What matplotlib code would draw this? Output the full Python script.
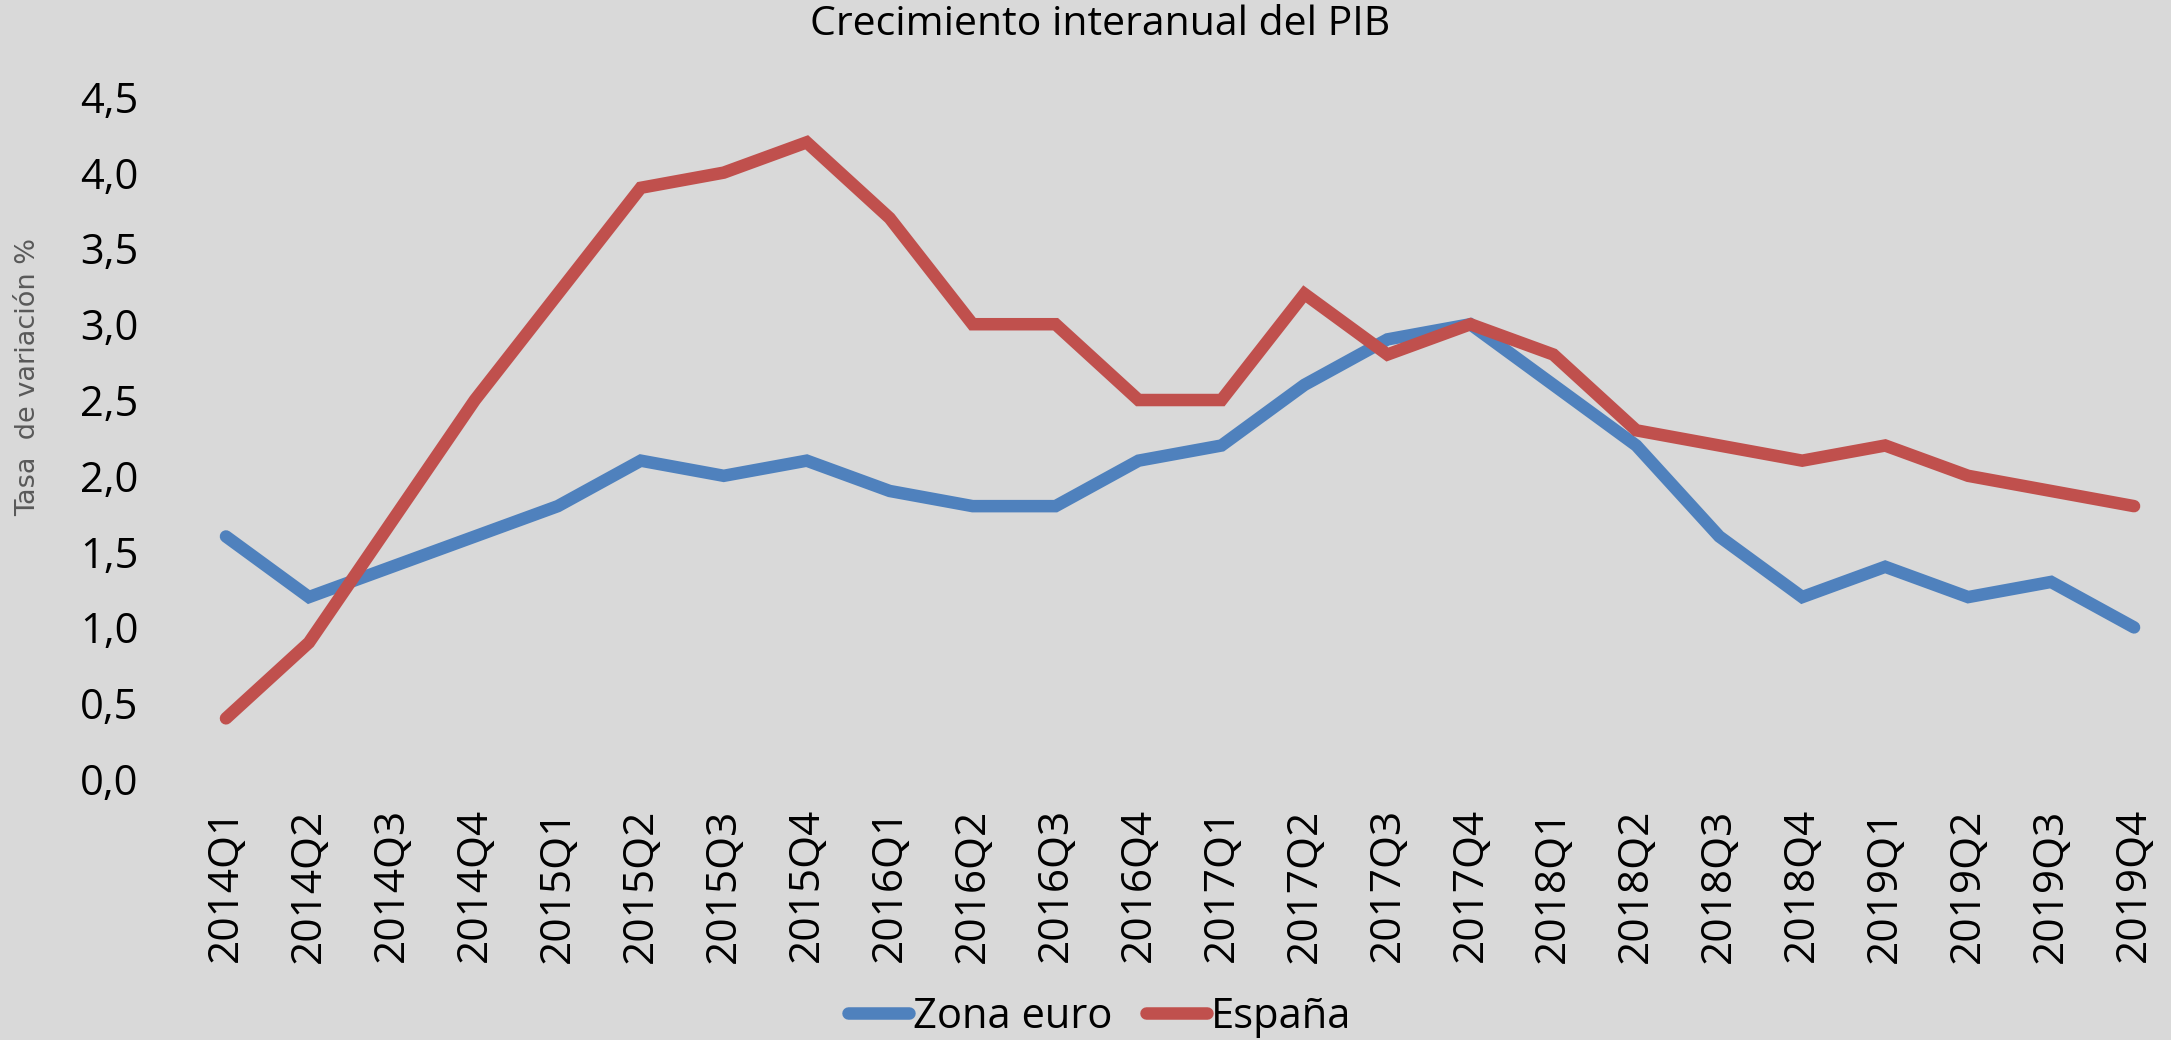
import matplotlib
matplotlib.use("Agg")
import matplotlib.pyplot as plt
from matplotlib.ticker import FuncFormatter

categories = ["2014Q1", "2014Q2", "2014Q3", "2014Q4",
              "2015Q1", "2015Q2", "2015Q3", "2015Q4",
              "2016Q1", "2016Q2", "2016Q3", "2016Q4",
              "2017Q1", "2017Q2", "2017Q3", "2017Q4",
              "2018Q1", "2018Q2", "2018Q3", "2018Q4",
              "2019Q1", "2019Q2", "2019Q3", "2019Q4"]
zona_euro = [1.6, 1.2, 1.4, 1.6, 1.8, 2.1, 2.0, 2.1, 1.9, 1.8, 1.8, 2.1,
             2.2, 2.6, 2.9, 3.0, 2.6, 2.2, 1.6, 1.2, 1.4, 1.2, 1.3, 1.0]
espana = [0.4, 0.9, 1.7, 2.5, 3.2, 3.9, 4.0, 4.2, 3.7, 3.0, 3.0, 2.5,
          2.5, 3.2, 2.8, 3.0, 2.8, 2.3, 2.2, 2.1, 2.2, 2.0, 1.9, 1.8]
y_ticks = [0.0, 0.5, 1.0, 1.5, 2.0, 2.5, 3.0, 3.5, 4.0, 4.5]

BG = "#d9d9d9"
FONT = ["Open Sans", "DejaVu Sans"]
plt.rcParams["font.family"] = FONT

W, H = 2171, 1040
fig = plt.figure(figsize=(W / 100, H / 100), dpi=100, facecolor=BG)
left_px = 184.5
ax = fig.add_axes([left_px / W, (H - 779) / H, (W - left_px) / W, 0.6705])
ax.set_facecolor(BG)

x = list(range(len(categories)))
ax.plot(x, zona_euro, color="#4f81bd", lw=9, solid_capstyle="round",
        solid_joinstyle="miter", label="Zona euro")
ax.plot(x, espana, color="#c0504d", lw=9, solid_capstyle="round",
        solid_joinstyle="miter", label="España")

ax.set_xlim(-0.5, -0.5 + (W - left_px) / 82.96)
ax.set_ylim(0, 4.6)
ax.set_yticks(y_ticks)
ax.yaxis.set_major_formatter(FuncFormatter(lambda v, p: f"{v:.1f}".replace(".", ",")))
ax.set_xticks(x)
ax.set_xticklabels(categories, rotation=90)
ax.tick_params(axis="y", length=0, pad=33, labelsize=30, colors="black")
ax.tick_params(axis="x", length=0, pad=21, labelsize=30.5, colors="black")
for s in ax.spines.values():
    s.set_visible(False)

fig.text(1100 / W, 1 - 25 / H, "Crecimiento interanual del PIB", ha="center",
         va="center", fontsize=29.5, color="black")
fig.text(28 / W, 1 - 377 / H, "Tasa  de variación %", rotation=90, ha="center",
         va="center", fontsize=19.5, color="#595959", family="DejaVu Sans")

fig.legend(loc="center", bbox_to_anchor=(1100 / W, 1 - 1017 / H), ncol=2,
           frameon=False, fontsize=30, handlelength=1.46, handletextpad=0.1,
           columnspacing=0.8, borderaxespad=0, borderpad=0)

fig.savefig("out.png", dpi=100, facecolor=BG)
